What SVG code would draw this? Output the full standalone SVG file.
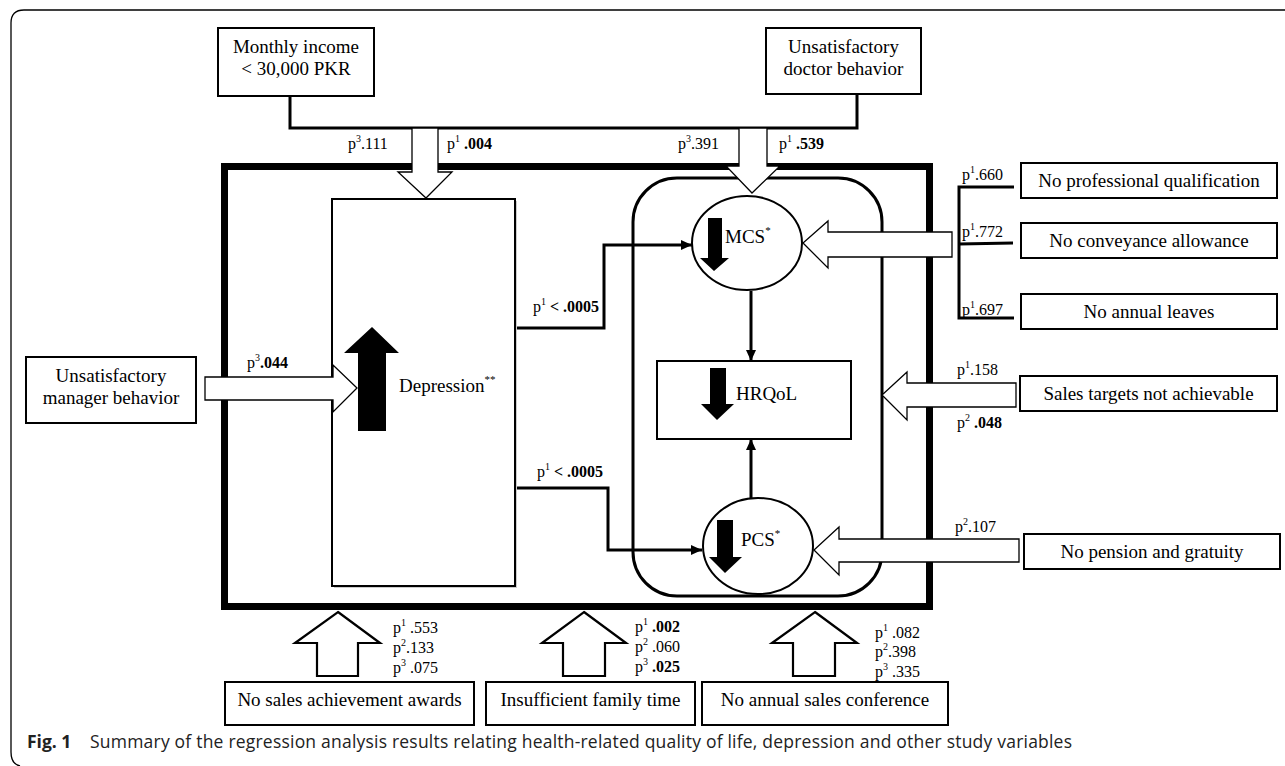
<svg xmlns="http://www.w3.org/2000/svg" width="1285" height="766" viewBox="0 0 1285 766">
<style>
.t{font-family:"Liberation Serif","Times New Roman",serif;font-size:19px;fill:#000}
.p{font-family:"Liberation Serif","Times New Roman",serif;font-size:16px;fill:#000}
.b{font-weight:bold}
.box{fill:#fff;stroke:#000;stroke-width:2}
.wa{fill:#fff;stroke:#000;stroke-width:1.3;stroke-linejoin:miter}
.wab{fill:#fff;stroke:#000;stroke-width:2.2;stroke-linejoin:miter}
.ba{fill:#000}
.con{fill:none;stroke:#000;stroke-width:3}
.cap{font-family:"Open Sans","Noto Sans",sans-serif;font-size:17.5px;fill:#222}
</style>
<defs>
<marker id="ah" markerUnits="userSpaceOnUse" markerWidth="12" markerHeight="10" refX="11" refY="5" orient="auto">
<path d="M0,0 L11,5 L0,10 z" fill="#000"/>
</marker>
</defs>
<rect width="1285" height="766" fill="#fff"/>
<path d="M1285,10 H24 Q11,10 11,23 V752 Q11,764 20,766" fill="none" stroke="#000" stroke-width="1.3"/>

<g id="frame">
<rect x="224.5" y="166.5" width="705" height="440" fill="none" stroke="#000" stroke-width="7"/>
<rect x="633" y="178" width="249" height="418" rx="44" ry="44" fill="none" stroke="#000" stroke-width="3"/>
</g>

<g id="connectors">
<polyline class="con" points="290,96 290,128 857,128 857,94"/>
<polyline class="con" points="515,328 604,328 604,245 692,245" marker-end="url(#ah)"/>
<polyline class="con" points="515,488 608,488 608,550 702,550" marker-end="url(#ah)"/>
<line class="con" x1="751" y1="291" x2="751" y2="361" marker-end="url(#ah)"/>
<line class="con" x1="751" y1="498" x2="751" y2="439" marker-end="url(#ah)"/>
<polyline class="con" points="1014,187 959,187 959,318 1014,318"/>
<line class="con" x1="959" y1="244" x2="1013" y2="243"/>
</g>

<g id="depression">
<rect x="334" y="201" width="183" height="387" fill="#ccc"/>
<rect class="box" x="332" y="199" width="183" height="387"/>
<polygon class="ba" points="372,327 399,353 386,353 386,431 358,431 358,353 344,353"/>
<text class="t" x="399" y="392">Depression<tspan font-size="11" dy="-9">**</tspan></text>
</g>

<g id="mcs">
<ellipse cx="747" cy="243" rx="55" ry="47" fill="#fff" stroke="#000" stroke-width="2"/>
<polygon class="ba" points="714,271 729,258 722,258 722,218 708,218 708,258 700,258"/>
<text class="t" x="725" y="243">MCS<tspan font-size="11" dy="-9">*</tspan></text>
</g>

<g id="hrqol">
<rect class="box" x="657" y="361" width="194" height="78"/>
<polygon class="ba" points="717,420 734,404 726,404 726,368 710,368 710,404 701,404"/>
<text class="t" x="736" y="400">HRQoL</text>
</g>

<g id="pcs">
<ellipse cx="758" cy="546" rx="55" ry="48" fill="#fff" stroke="#000" stroke-width="2"/>
<polygon class="ba" points="725,573 742,557 733,557 733,520 717,520 717,557 709,557"/>
<text class="t" x="741" y="546">PCS<tspan font-size="11" dy="-9">*</tspan></text>
</g>

<g id="income">
<rect class="box" x="218" y="28" width="156" height="68"/>
<text class="t" x="296" y="53" text-anchor="middle">Monthly income</text>
<text class="t" x="296" y="75" text-anchor="middle">&lt; 30,000 PKR</text>
</g>

<g id="doctor">
<rect class="box" x="766" y="28" width="155" height="66"/>
<text class="t" x="843.5" y="53" text-anchor="middle">Unsatisfactory</text>
<text class="t" x="843.5" y="75" text-anchor="middle">doctor behavior</text>
</g>

<g id="manager">
<rect class="box" x="26" y="357" width="170" height="66"/>
<text class="t" x="111" y="382" text-anchor="middle">Unsatisfactory</text>
<text class="t" x="111" y="404" text-anchor="middle">manager behavior</text>
</g>

<g id="qualification">
<rect class="box" x="1021" y="163" width="256" height="35"/>
<text class="t" x="1149" y="187" text-anchor="middle">No professional qualification</text>
</g>
<g id="conveyance">
<rect class="box" x="1021" y="223" width="256" height="35"/>
<text class="t" x="1149" y="247" text-anchor="middle">No conveyance allowance</text>
</g>
<g id="leaves">
<rect class="box" x="1021" y="294" width="256" height="35"/>
<text class="t" x="1149" y="318" text-anchor="middle">No annual leaves</text>
</g>
<g id="targets">
<rect class="box" x="1020" y="376" width="257" height="35"/>
<text class="t" x="1148.5" y="400" text-anchor="middle">Sales targets not achievable</text>
</g>
<g id="pension">
<rect class="box" x="1024" y="534" width="256" height="35"/>
<text class="t" x="1152" y="558" text-anchor="middle">No pension and gratuity</text>
</g>
<g id="awards">
<rect class="box" x="225" y="682" width="249" height="43"/>
<text class="t" x="349.5" y="706" text-anchor="middle">No sales achievement awards</text>
</g>
<g id="family">
<rect class="box" x="486" y="682" width="209" height="43"/>
<text class="t" x="590.5" y="706" text-anchor="middle">Insufficient family time</text>
</g>
<g id="conference">
<rect class="box" x="702" y="682" width="246" height="43"/>
<text class="t" x="825" y="706" text-anchor="middle">No annual sales conference</text>
</g>

<g id="effect-arrows">
<polygon class="wa" points="412,128 438,128 438,172 452,172 426,198 398,172 412,172"/>
<polygon class="wa" points="739,128 767,128 767,166 780,166 752,193 726,166 739,166"/>
<polygon class="wa" points="205,377 333,377 333,365 357,388 333,412 333,400 205,400"/>
<polygon class="wa" points="952,232 828,232 828,221 803,243 828,268 828,257 952,257"/>
<polygon class="wa" points="1016,383 907,383 907,372 882,395 907,420 907,407 1016,407"/>
<polygon class="wa" points="1019,539 839,539 839,527 814,550 839,575 839,562 1019,562"/>
<polygon class="wab" points="338,612 380,643 358,643 358,676 317,676 317,643 295,643"/>
<polygon class="wab" points="584,612 626,643 605,643 605,676 563,676 563,643 542,643"/>
<polygon class="wab" points="815,612 857,643 835,643 835,676 793,676 793,643 772,643"/>
</g>

<g id="labels">
<text class="p" x="348" y="149">p<tspan font-size="10" dy="-7">3</tspan><tspan dy="7">.111</tspan></text>
<text class="p" x="447" y="149">p<tspan font-size="10" dy="-7">1</tspan><tspan dy="7"> </tspan><tspan class="b">.004</tspan></text>
<text class="p" x="678" y="149">p<tspan font-size="10" dy="-7">3</tspan><tspan dy="7">.391</tspan></text>
<text class="p" x="779" y="149">p<tspan font-size="10" dy="-7">1</tspan><tspan dy="7"> </tspan><tspan class="b">.539</tspan></text>
<text class="p" x="247" y="368">p<tspan font-size="10" dy="-7">3</tspan><tspan class="b" dy="7">.044</tspan></text>
<text class="p" x="533" y="312">p<tspan font-size="10" dy="-7">1</tspan><tspan class="b" dy="7"> &lt; .0005</tspan></text>
<text class="p" x="537" y="477">p<tspan font-size="10" dy="-7">1</tspan><tspan class="b" dy="7"> &lt; .0005</tspan></text>
<text class="p" x="962" y="180">p<tspan font-size="10" dy="-7">1</tspan><tspan dy="7">.660</tspan></text>
<text class="p" x="962" y="237">p<tspan font-size="10" dy="-7">1</tspan><tspan dy="7">.772</tspan></text>
<text class="p" x="962" y="315">p<tspan font-size="10" dy="-7">1</tspan><tspan dy="7">.697</tspan></text>
<text class="p" x="957" y="375">p<tspan font-size="10" dy="-7">1</tspan><tspan dy="7">.158</tspan></text>
<text class="p" x="957" y="428">p<tspan font-size="10" dy="-7">2</tspan><tspan dy="7"> </tspan><tspan class="b">.048</tspan></text>
<text class="p" x="955" y="532">p<tspan font-size="10" dy="-7">2</tspan><tspan dy="7">.107</tspan></text>
<text class="p" x="393" y="633">p<tspan font-size="10" dy="-7">1</tspan><tspan dy="7"> .553</tspan></text>
<text class="p" x="393" y="653">p<tspan font-size="10" dy="-7">2</tspan><tspan dy="7">.133</tspan></text>
<text class="p" x="393" y="673">p<tspan font-size="10" dy="-7">3</tspan><tspan dy="7"> .075</tspan></text>
<text class="p" x="635" y="632">p<tspan font-size="10" dy="-7">1</tspan><tspan dy="7"> </tspan><tspan class="b">.002</tspan></text>
<text class="p" x="635" y="652">p<tspan font-size="10" dy="-7">2</tspan><tspan dy="7"> .060</tspan></text>
<text class="p" x="635" y="672">p<tspan font-size="10" dy="-7">3</tspan><tspan dy="7"> </tspan><tspan class="b">.025</tspan></text>
<text class="p" x="875" y="638">p<tspan font-size="10" dy="-7">1</tspan><tspan dy="7"> .082</tspan></text>
<text class="p" x="875" y="657">p<tspan font-size="10" dy="-7">2</tspan><tspan dy="7">.398</tspan></text>
<text class="p" x="875" y="677">p<tspan font-size="10" dy="-7">3</tspan><tspan dy="7"> .335</tspan></text>
</g>

<g id="caption">
<text class="cap" x="27" y="748" font-weight="bold" fill="#000">Fig. 1</text>
<text class="cap" x="90" y="748" textLength="982" lengthAdjust="spacing">Summary of the regression analysis results relating health-related quality of life, depression and other study variables</text>
</g>
</svg>
